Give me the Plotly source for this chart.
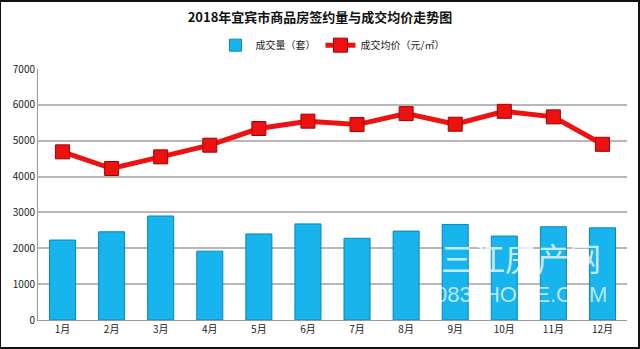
import plotly.graph_objects as go

months = ["1月", "2月", "3月", "4月", "5月", "6月", "7月", "8月", "9月", "10月", "11月", "12月"]
volume = [2230, 2460, 2900, 1920, 2400, 2680, 2280, 2480, 2665, 2340, 2600, 2570]
price = [4690, 4225, 4550, 4875, 5340, 5545, 5450, 5755, 5460, 5820, 5665, 4900]
y_ticks = [0, 1000, 2000, 3000, 4000, 5000, 6000, 7000]

font = "Noto Sans CJK SC"

fig = go.Figure()
fig.add_trace(go.Bar(
    x=months, y=volume, name="成交量（套）",
    marker=dict(color="#17B4ED", line=dict(color="#0A86B8", width=1)),
    width=0.53,
))
fig.add_trace(go.Scatter(
    x=months, y=price, name="成交均价（元/㎡）", mode="lines+markers",
    line=dict(color="#EE1111", width=5),
    marker=dict(symbol="square", size=14, color="#EE1111", line=dict(color="#A00000", width=1)),
))

fig.update_layout(
    width=640, height=349,
    margin=dict(l=38, r=13, t=69, b=29),
    paper_bgcolor="white", plot_bgcolor="white",
    font=dict(family=font, size=10, color="#222222"),
    title=dict(text="<b>2018年宜宾市商品房签约量与成交均价走势图</b>",
               x=0.5, xanchor="center", y=0.95, yanchor="middle",
               font=dict(size=13, color="#111111", family=font)),
    legend=dict(orientation="h", x=0.5, xanchor="center", y=1.095, yanchor="middle",
                font=dict(size=10, family=font), bgcolor="rgba(0,0,0,0)",
                itemwidth=30, traceorder="normal"),
    showlegend=True,
)
fig.update_xaxes(range=[-0.5, 11.5], showline=True, linecolor="#9a9a9a", linewidth=1, ticks="",
                 tickfont=dict(size=10, color="#222222"), showgrid=False)
fig.update_yaxes(range=[0, 7000], tickvals=y_ticks, showgrid=True, gridcolor="#b8b8b8",
                 gridwidth=1.5, zeroline=False, showline=True, linecolor="#9a9a9a",
                 tickfont=dict(size=10, color="#222222"), ticks="")

# outer frame
fig.add_shape(type="rect", xref="paper", yref="paper",
              x0=-38/589, x1=1 + 12/589, y0=-28/251, y1=1 + 68/251,
              line=dict(color="#111111", width=2), fillcolor="rgba(0,0,0,0)", layer="above")

# watermark
fig.add_annotation(text="三江房产网", xref="paper", yref="paper", x=0.82, y=0.25,
                   xanchor="center", yanchor="middle",
                   showarrow=False, font=dict(size=32, color="rgba(255,255,255,0.75)", family=font))
fig.add_annotation(text="0831HOME.COM", xref="paper", yref="paper", x=0.82, y=0.10,
                   xanchor="center", yanchor="middle",
                   showarrow=False, font=dict(size=22, color="rgba(255,255,255,0.7)", family="Liberation Sans"))

fig.write_html("out.html")
